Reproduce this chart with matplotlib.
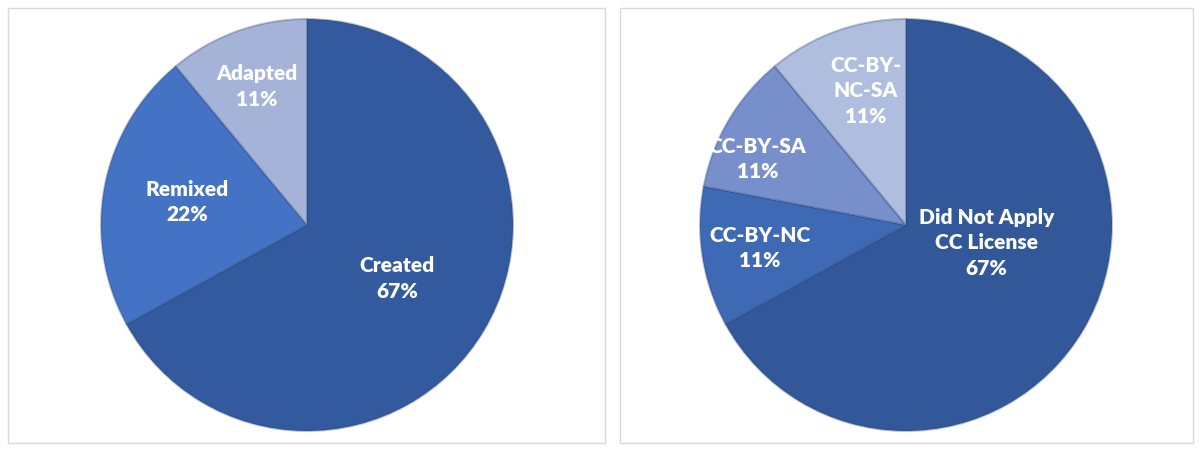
import matplotlib.pyplot as plt
from matplotlib.patches import Rectangle
import numpy as np

plt.rcParams['font.family'] = ['Lato', 'DejaVu Sans']

# left chart: how resources were made
left_labels = ['Created', 'Remixed', 'Adapted']
left_values = [67, 22, 11]
left_colors = ['#335A9E', '#4472C4', '#A5B3D8']

# right chart: licence applied
right_labels = ['Did Not Apply\nCC License', 'CC-BY-NC', 'CC-BY-SA', 'CC-BY-\nNC-SA']
right_values = [67, 11, 11, 11]
right_colors = ['#32589A', '#3D69B5', '#7790CC', '#AFBDDF']

W, H = 1200, 451
fig = plt.figure(figsize=(W / 100, H / 100), dpi=100)

# panel frames
for x0, x1 in [(8, 605), (620, 1193)]:
    fig.patches.append(Rectangle((x0 / W, 8 / H), (x1 - x0) / W, (443 - 8) / H,
                                 transform=fig.transFigure, fill=False,
                                 edgecolor='#D9D9D9', linewidth=1))


def draw_pie(cx, cy, r, values, labels, colors, label_pos):
    ax = fig.add_axes([(cx - r) / W, (H - cy - r) / H, 2 * r / W, 2 * r / H])
    wedges, _ = ax.pie(values, colors=colors, startangle=90, counterclock=False,
                       radius=1.0,
                       wedgeprops=dict(edgecolor=(0.15, 0.25, 0.45, 0.3), linewidth=1.5))
    for w, lab, v, (rr, ang) in zip(wedges, labels, values, label_pos):
        if ang is None:
            ang = (w.theta1 + w.theta2) / 2
        a = np.deg2rad(ang)
        ax.text(rr * np.cos(a), rr * np.sin(a), f'{lab}\n{v}%', ha='center', va='center',
                color='white', fontsize=15, fontweight='heavy', linespacing=1.4)
    ax.set_xlim(-1, 1)
    ax.set_ylim(-1, 1)
    ax.set_aspect('equal')
    ax.axis('off')


draw_pie(307, 225, 206, left_values, left_labels, left_colors,
         [(0.51, None), (0.59, None), (0.715, None)])
draw_pie(906, 225, 206, right_values, right_labels, right_colors,
         [(0.40, -12.5), (0.72, None), (0.79, 156), (0.68, 106.6)])

fig.savefig('out.png', dpi=100, facecolor='white')
